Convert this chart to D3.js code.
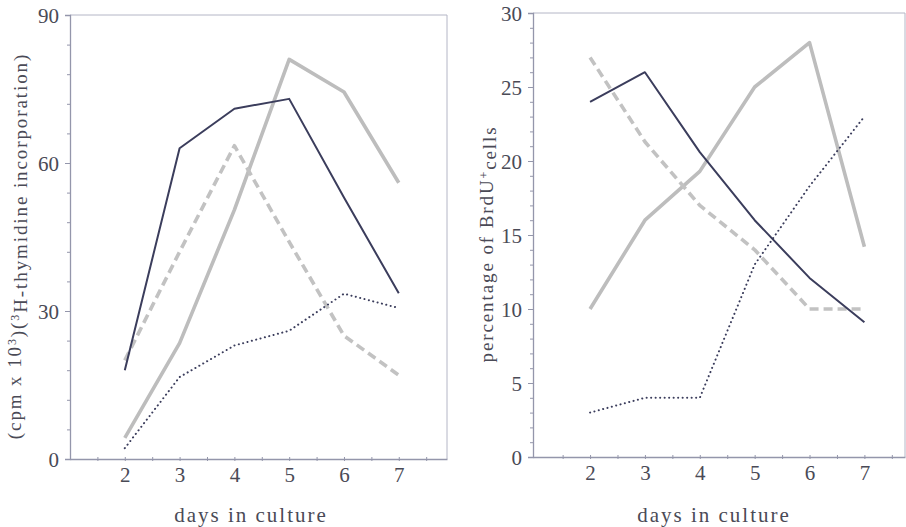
<!DOCTYPE html>
<html>
<head>
<meta charset="utf-8">
<script src="https://cdn.jsdelivr.net/npm/d3@7"></script>
<style>
  body { margin: 0; background: #fff; }
  svg { display: block; }
  text { font-family: "Liberation Serif", "DejaVu Serif", serif; fill: #4a4a56; }
</style>
</head>
<body>
<div id="chart"></div>
<script>
// days on the x axis, shared by both panels
var days = [2, 3, 4, 5, 6, 7];

// left panel: 3H-thymidine incorporation (cpm x 10^3)
var leftSolid  = [18, 63, 71, 73, 53, 33.6];
var leftGray   = [4.3, 23.5, 50.5, 81, 74.4, 56];
var leftDashed = [20, 42, 63.5, 44, 25, 17];
var leftDotted = [2.2, 16.6, 23, 26, 33.5, 30.6];
var leftTicks  = [0, 30, 60, 90];

// right panel: percentage of BrdU+ cells
var rightSolid  = [24, 26, 20.6, 16, 12.1, 9.1];
var rightGray   = [10, 16, 19.3, 25, 28, 14.2];
var rightDashed = [27, 21.3, 17, 14, 10, 10];
var rightDotted = [3, 4, 4, 13, 18.3, 23];
var rightTicks  = [0, 5, 10, 15, 20, 25, 30];

var styles = {
    solid:  { stroke: "#3b3d5c", width: 2,   dash: null },
    gray:   { stroke: "#bdbdbd", width: 3.6, dash: null },
    dashed: { stroke: "#c2c2c2", width: 3.6, dash: "9,5" },
    dotted: { stroke: "#3b3d5c", width: 2,   dash: "0.1,4.4" }
};

var svg = d3.select("#chart").append("svg")
    .attr("width", 906)
    .attr("height", 527);

var axisColor = "#9496ab";
var fmt = d3.format("d");

function drawPanel(p) {
    var x = d3.scaleLinear().domain(p.xDomain).range([p.left, p.right]);
    var y = d3.scaleLinear().domain([0, p.yMax]).range([p.bottom, p.top]);
    var g = svg.append("g");

    // frame: top and right edges
    g.append("path")
        .attr("d", "M" + p.left + "," + p.top + "H" + p.right + "V" + p.bottom)
        .attr("fill", "none")
        .attr("stroke", "#b4b6c6")
        .attr("stroke-width", 1);

    // y axis with minor ticks
    var minor = d3.range(0, p.yMax + 0.001, p.yMinor);
    g.append("g")
        .attr("transform", "translate(" + p.left + ",0)")
        .call(d3.axisLeft(y).tickValues(minor).tickSize(3).tickFormat(""))
        .call(function (a) { a.selectAll("line").attr("stroke", axisColor); });
    var ya = g.append("g")
        .attr("transform", "translate(" + p.left + ",0)")
        .call(d3.axisLeft(y).tickValues(p.yTicks).tickSize(5).tickPadding(6).tickFormat(fmt));
    ya.select(".domain").attr("stroke", axisColor).attr("stroke-width", 1.3);
    ya.selectAll("line").attr("stroke", axisColor);
    ya.selectAll("text")
        .style("font-size", "21px")
        .style("font-family", "Liberation Serif, serif")
        .attr("fill", "#4a4a56")
        .attr("dy", "0.34em");

    // x axis: small ticks crossing the line, labels on whole days
    var halfTicks = d3.range(1.5, p.xDomain[1], 0.5);
    g.append("g")
        .attr("transform", "translate(0," + (p.bottom + 2) + ")")
        .call(d3.axisBottom(x).tickValues(halfTicks).tickSize(4).tickFormat(""))
        .call(function (a) {
            a.select(".domain").remove();
            a.selectAll("line").attr("y1", -4).attr("y2", 0).attr("stroke", axisColor);
        });
    var xa = g.append("g")
        .attr("transform", "translate(0," + p.bottom + ")")
        .call(d3.axisBottom(x).tickValues(days).tickSize(0).tickPadding(8).tickFormat(fmt));
    xa.select(".domain").attr("stroke", axisColor).attr("stroke-width", 1.3);
    xa.selectAll("text")
        .style("font-size", "21px")
        .style("font-family", "Liberation Serif, serif")
        .attr("fill", "#4a4a56");

    // series
    var line = d3.line()
        .x(function (d, i) { return x(days[i]); })
        .y(function (d) { return y(d); });

    p.series.forEach(function (s) {
        var st = styles[s.style];
        g.append("path")
            .datum(s.values)
            .attr("d", line)
            .attr("fill", "none")
            .attr("stroke", st.stroke)
            .attr("stroke-width", st.width)
            .attr("stroke-linejoin", "round")
            .attr("stroke-linecap", s.style === "dotted" ? "round" : "butt")
            .attr("stroke-dasharray", st.dash);
    });

    // x title
    g.append("text")
        .attr("x", p.xTitleX)
        .attr("y", 522)
        .attr("text-anchor", "middle")
        .style("font-size", "21px")
        .style("letter-spacing", "2px")
        .text("days in culture");

    // y title
    var t = g.append("text")
        .attr("transform", "translate(" + p.yTitleX + "," + p.yTitleY + ") rotate(-90)")
        .attr("text-anchor", "middle")
        .style("font-size", p.yTitleSize)
        .style("letter-spacing", p.yTitleSpacing);
    p.yTitle.forEach(function (part) {
        var ts = t.append("tspan").text(part.t);
        if (part.sup) {
            ts.attr("dy", "-0.45em").style("font-size", "12px");
        } else if (part.after) {
            ts.attr("dy", "0.45em");
        }
    });
}

drawPanel({
    left: 70, right: 447, top: 15, bottom: 459,
    xDomain: [1, 7.88], yMax: 90, yMinor: 6, yTicks: leftTicks,
    xTitleX: 251, yTitleX: 21, yTitleY: 246,
    yTitleSize: "19px", yTitleSpacing: "1.9px",
    yTitle: [
        { t: "(cpm x 10" }, { t: "3", sup: true }, { t: ")(", after: true },
        { t: "3", sup: true }, { t: "H-thymidine incorporation)", after: true }
    ],
    series: [
        { style: "gray", values: leftGray },
        { style: "dashed", values: leftDashed },
        { style: "dotted", values: leftDotted },
        { style: "solid", values: leftSolid }
    ]
});

drawPanel({
    left: 533, right: 905, top: 13, bottom: 457,
    xDomain: [0.96, 7.74], yMax: 30, yMinor: 1, yTicks: rightTicks,
    xTitleX: 714, yTitleX: 493, yTitleY: 244,
    yTitleSize: "19px", yTitleSpacing: "1.9px",
    yTitle: [
        { t: "percentage of BrdU" }, { t: "+", sup: true }, { t: "cells", after: true }
    ],
    series: [
        { style: "gray", values: rightGray },
        { style: "dashed", values: rightDashed },
        { style: "dotted", values: rightDotted },
        { style: "solid", values: rightSolid }
    ]
});
</script>
</body>
</html>
